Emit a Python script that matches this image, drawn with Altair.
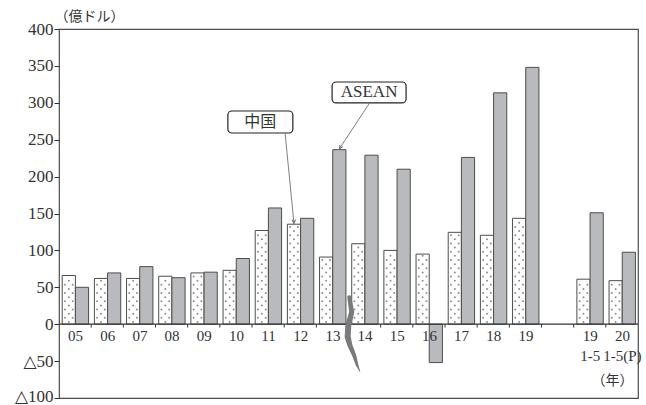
import json
import altair as alt
import pandas as pd

# Slot labels ("|" marks a line break) and yearly values (100 million USD)
years = ["05", "06", "07", "08", "09", "10", "11", "12", "13", "14",
         "15", "16", "17", "18", "19", "", "19|1-5", "20|1-5(P)"]
china = [66, 62, 62, 65, 69.5, 73, 127, 135.5, 91, 109,
         100, 95, 124.5, 120.5, 143.5, None, 61, 59]
asean = [50, 69.5, 78, 63, 70.5, 89, 157.5, 143.5, 236.5, 229,
         210, -52, 226, 313.5, 348, None, 151, 97.5]

# Callout labels: text, box centre, box half-size, and the bar each one points at
ann_text = ["中国", "ASEAN"]
ann_cx = [6.26, 9.64]
ann_cy = [274, 314]
ann_hw = [1.01, 1.15]
ann_hh = [14.9, 14.2]
ann_tail_x = [7.03, 9.64]
ann_series = ["中国", "ASEAN"]
ann_slot = ["12", "13"]
ann_angle = [356, 33]

# Brush-stroke break marker
break_x = [9.024, 9.099, 8.993, 8.974, 9.046, 9.179, 9.273, 9.357]
break_y = [36.6, 16.7, -1.9, -17.2, -29.0, -42.5, -56.1, -64.2]
break_w = [4, 5, 6, 6, 5, 4, 2.5, 0.6]

W, H = 579, 369
Y_MIN, Y_MAX = -100, 400
SERIF = "Liberation Serif, DejaVu Sans"
CJK = "Noto Sans CJK JP"
INK = "#333333"
EDGE = "#4d4d4d"

C_LEFT, C_RIGHT, A_RIGHT = 0.10, 0.51, 0.92

rows = []
for i, (c, a) in enumerate(zip(china, asean)):
    if c is not None:
        rows.append({"slot": i, "series": "中国", "x": i + C_LEFT, "x2": i + C_RIGHT, "value": c})
    if a is not None:
        rows.append({"slot": i, "series": "ASEAN", "x": i + C_RIGHT, "x2": i + A_RIGHT, "value": a})
bars = pd.DataFrame(rows)

# dot screen inside the China bars
dots = []
step = 5.6
for i, c in enumerate(china):
    if c is None:
        continue
    mid = i + (C_LEFT + C_RIGHT) / 2
    k = 0
    y = 3.0
    while y < c - 2:
        if k % 2 == 0:
            dots.append({"x": mid, "y": y})
        else:
            dots.append({"x": mid - 0.12, "y": y})
            dots.append({"x": mid + 0.12, "y": y})
        k += 1
        y += step
dots = pd.DataFrame(dots)

xscale = alt.Scale(domain=[0, len(years)], nice=False, zero=False)
yscale = alt.Scale(domain=[Y_MIN, Y_MAX], nice=False, zero=False)

label_values = [i + 0.5 for i, y in enumerate(years) if y]
label_expr = "split(" + json.dumps(years) + "[floor(datum.value)], '|')"
zero_offset = -H * (0 - Y_MIN) / (Y_MAX - Y_MIN)

x_axis = alt.Axis(
    values=label_values, tickCount=60, labelExpr=label_expr, tickSize=0,
    domain=False, grid=False, offset=zero_offset, zindex=1,
    labelFont=SERIF, labelFontSize=15, labelColor=INK,
    labelPadding=4, labelLineHeight=20, labelFlush=False, labelOverlap=False,
    title="（年）", titleFont=CJK, titleFontSize=14, titleFontWeight="normal",
    titleColor=INK, titleX=553, titleY=56, titleBaseline="middle", titleAlign="center",
)
y_axis = alt.Axis(
    values=list(range(Y_MIN, Y_MAX + 1, 50)), tickCount=60,
    labelExpr="datum.value < 0 ? '△' + abs(datum.value) : '' + datum.value",
    labelOffset={"condition": {"test": f"datum.value <= {Y_MIN}", "value": -2}, "value": 0},
    tickSize=5, tickColor=INK, labelPadding=1, domain=False, grid=False,
    labelFont=SERIF, labelFontSize=17, labelColor=INK,
    labelFlush=False, labelOverlap=False,
    title="（億ドル）", titleFont=CJK, titleFontSize=14, titleFontWeight="normal",
    titleColor=INK, titleAngle=0, titleAlign="left", titleBaseline="middle",
    titleX=-5, titleY=-13,
)

base = alt.Chart(bars)

china_bars = base.transform_filter(alt.datum.series == "中国").mark_rect(
    fill="white", stroke=EDGE, strokeWidth=1
).encode(
    x=alt.X("x:Q", scale=xscale, axis=x_axis),
    x2="x2:Q",
    y=alt.Y("value:Q", scale=yscale, axis=y_axis),
    y2=alt.datum(0),
)

dot_layer = alt.Chart(dots).mark_circle(size=4, color="#8f8f8f", opacity=1).encode(
    x=alt.X("x:Q", scale=xscale),
    y=alt.Y("y:Q", scale=yscale),
)

asean_bars = base.transform_filter(alt.datum.series == "ASEAN").mark_rect(
    fill="#b9babd", stroke=EDGE, strokeWidth=1
).encode(
    x=alt.X("x:Q", scale=xscale),
    x2="x2:Q",
    y=alt.Y("value:Q", scale=yscale),
    y2=alt.datum(0),
)

zero_line = alt.Chart(pd.DataFrame({"x": [0], "x2": [len(years)]})).mark_rule(
    color=INK, strokeWidth=1.2
).encode(
    x=alt.X("x:Q", scale=xscale), x2="x2:Q", y=alt.datum(0)
)

ticks = alt.Chart(pd.DataFrame({"x": list(range(1, len(years)))})).mark_rule(
    color=INK, strokeWidth=1
).encode(
    x=alt.X("x:Q", scale=xscale), y=alt.datum(0), y2=alt.datum(-4.5)
)

brk = alt.Chart(pd.DataFrame({"x": break_x, "y": break_y, "w": break_w,
                              "o": list(range(len(break_x)))})).mark_trail(
    color="#7a7a7a"
).encode(
    x=alt.X("x:Q", scale=xscale),
    y=alt.Y("y:Q", scale=yscale),
    size=alt.Size("w:Q", scale=None, legend=None),
    order="o:Q",
)

# callout geometry; arrow tips land on the top of the referenced bars
ann_rows = []
for t, cx, cy, hw, hh, tx, s, sl, ang in zip(ann_text, ann_cx, ann_cy, ann_hw, ann_hh,
                                             ann_tail_x, ann_series, ann_slot, ann_angle):
    b = bars[(bars.series == s) & (bars.slot == years.index(sl))].iloc[0]
    ann_rows.append({
        "text": t, "cx": cx, "cy": cy, "x1": cx - hw, "x2": cx + hw,
        "y1": cy - hh, "y2": cy + hh, "tx": tx, "ty": cy - hh - 1,
        "hx": (b.x + b.x2) / 2, "hy": b.value + 1, "angle": ang,
    })
ann = alt.Chart(pd.DataFrame(ann_rows))

arrows = ann.mark_rule(color="#808080", strokeWidth=1).encode(
    x=alt.X("tx:Q", scale=xscale), y=alt.Y("ty:Q", scale=yscale),
    x2="hx:Q", y2="hy:Q",
)
heads = ann.mark_point(
    shape="M -0.45 -1 L 0 0 L 0.45 -1", filled=False, size=60,
    color="#707070", strokeWidth=1, opacity=1
).encode(
    x=alt.X("hx:Q", scale=xscale), y=alt.Y("hy:Q", scale=yscale),
    angle=alt.Angle("angle:Q", scale=None),
)
boxes = ann.mark_rect(fill="white", stroke="#222222", strokeWidth=1.2, cornerRadius=4).encode(
    x=alt.X("x1:Q", scale=xscale), x2="x2:Q",
    y=alt.Y("y1:Q", scale=yscale), y2="y2:Q",
)
box_text_cn = ann.transform_filter(alt.datum.text == "中国").mark_text(
    font=CJK, fontSize=16, color=INK, baseline="middle", align="center"
).encode(x=alt.X("cx:Q", scale=xscale), y=alt.Y("cy:Q", scale=yscale), text="text:N")
box_text_en = ann.transform_filter(alt.datum.text == "ASEAN").mark_text(
    font="Liberation Serif", fontSize=17, color=INK, baseline="middle", align="center"
).encode(x=alt.X("cx:Q", scale=xscale), y=alt.Y("cy:Q", scale=yscale), text="text:N")

chart = alt.layer(
    china_bars, dot_layer, asean_bars, zero_line, ticks, brk,
    arrows, heads, boxes, box_text_cn, box_text_en,
).properties(
    width=W, height=H,
    autosize=alt.AutoSizeParams(type="none"),
    padding={"left": 59, "top": 29, "right": 8, "bottom": 7},
    background="white",
).configure_view(stroke=EDGE, strokeWidth=1.2)

chart.save("out.html", embed_options={"renderer": "svg", "actions": False})
